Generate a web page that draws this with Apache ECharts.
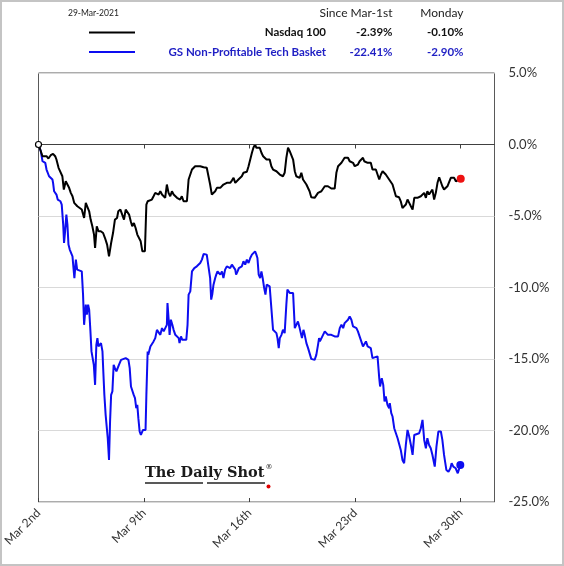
<!DOCTYPE html>
<html>
<head>
<meta charset="utf-8">
<script src="https://cdn.jsdelivr.net/npm/echarts@6.0.0/dist/echarts.min.js"></script>
<style>
html,body{margin:0;padding:0;background:#fff;}
#chart{width:564px;height:566px;}
</style>
</head>
<body>
<div id="chart"></div>
<script>
// ---- data ----
const reportDate = '29-Mar-2021';
const columnHeaders = ['Since Mar-1st', 'Monday'];
const seriesNames = ['Nasdaq 100', 'GS Non-Profitable Tech Basket'];
const sinceMar1 = ['-2.39%', '-22.41%'];
const mondayChg = ['-0.10%', '-2.90%'];
const tickDays = [0, 5, 10, 15, 20];          // trading-day offsets
const tickLabels = ['Mar 2nd', 'Mar 9th', 'Mar 16th', 'Mar 23rd', 'Mar 30th'];
const yTicks = [5, 0, -5, -10, -15, -20, -25];

// [trading-day offset, % change since Mar-1st]
const nasdaq100 = [[0,0],[0.19,-0.82],[0.27,-0.93],[0.38,-0.82],[0.47,-0.98],[0.58,-0.75],[0.69,-0.65],[0.79,-0.82],[0.85,-1.05],[0.95,-1.63],[1.04,-1.75],[1.13,-2.22],[1.2,-3.15],[1.29,-2.57],[1.37,-2.8],[1.45,-3.03],[1.53,-3.38],[1.61,-3.62],[1.69,-4.08],[1.77,-3.97],[1.84,-4.32],[1.92,-4.44],[2.05,-4.55],[2.16,-5.14],[2.24,-4.08],[2.33,-4.08],[2.4,-4.67],[2.47,-5.25],[2.55,-5.72],[2.63,-6.3],[2.68,-7.24],[2.76,-5.72],[2.84,-6.07],[2.95,-6.07],[3.06,-6.19],[3.15,-6.54],[3.25,-7.0],[3.34,-7.82],[3.44,-6.89],[3.53,-6.19],[3.62,-5.25],[3.72,-5.14],[3.78,-4.67],[3.88,-4.55],[3.97,-4.55],[4.05,-5.25],[4.13,-4.55],[4.21,-4.55],[4.29,-4.9],[4.37,-5.37],[4.44,-5.72],[4.52,-5.49],[4.6,-5.84],[4.68,-6.3],[4.76,-6.19],[4.84,-6.77],[4.92,-7.47],[5.04,-7.47],
[5.11,-4.2],[5.17,-3.97],[5.26,-4.08],[5.37,-3.85],[5.45,-3.62],[5.53,-3.38],[5.61,-3.27],[5.69,-3.5],[5.77,-3.27],[5.85,-3.5],[5.93,-3.38],[6.0,-3.73],[6.08,-2.8],[6.16,-3.38],[6.24,-3.62],[6.32,-3.27],[6.4,-3.5],[6.48,-3.38],[6.56,-3.73],[6.64,-3.62],[6.71,-3.85],[6.79,-3.62],[6.87,-3.97],[7.03,-3.97],[7.11,-2.45],[7.19,-2.33],[7.27,-1.75],[7.35,-1.63],[7.42,-1.52],[7.5,-1.45],[7.66,-1.52],[7.82,-1.59],[7.97,-1.63],[8.05,-1.75],[8.13,-2.8],[8.21,-3.5],[8.29,-3.62],[8.37,-3.27],[8.45,-3.03],[8.53,-2.99],[8.61,-3.03],[8.69,-2.92],[8.76,-2.8],[8.84,-2.75],[8.92,-2.68],[9.0,-2.57],[9.08,-2.68],[9.16,-2.52],[9.24,-2.33],[9.32,-2.68],[9.4,-2.57],[9.47,-2.45],[9.55,-2.33],[9.63,-2.22],[9.71,-1.98],[9.79,-1.87],[9.87,-1.91],[9.95,-1.52],[10.03,-1.4],[10.11,-0.58],[10.18,-0.23],[10.26,0.0],
[10.32,-0.23],[10.4,-0.35],[10.48,-0.23],[10.56,-0.58],[10.64,-0.82],[10.72,-0.93],[10.8,-1.05],[10.87,-0.98],[10.95,-1.05],[11.03,-1.52],[11.11,-1.75],[11.19,-1.63],[11.27,-1.87],[11.35,-1.98],[11.43,-2.1],[11.51,-2.05],[11.58,-2.22],[11.66,-1.98],[11.74,-0.93],[11.82,-0.23],[11.9,-0.47],[11.98,-0.47],[12.06,-1.05],[12.14,-1.87],[12.21,-2.22],[12.29,-2.1],[12.37,-2.33],[12.45,-1.98],[12.53,-2.45],[12.61,-2.57],[12.69,-2.8],[12.77,-2.92],[12.84,-3.27],[12.92,-3.69],[13.08,-3.73],[13.16,-3.69],[13.24,-3.38],[13.32,-3.5],[13.4,-3.27],[13.48,-3.15],[13.56,-2.92],[13.63,-3.03],[13.71,-2.92],[13.79,-3.03],[13.87,-3.08],[13.95,-3.15],[14.03,-3.08],[14.11,-1.98],[14.19,-1.52],[14.27,-1.4],[14.35,-1.28],[14.43,-1.17],[14.5,-0.93],[14.58,-1.05],[14.66,-0.93],[14.74,-1.17],[14.82,-1.05],[14.9,-1.28],[14.98,-1.52],[15.06,-1.52],[15.13,-1.4],[15.21,-1.17],[15.29,-1.05],[15.37,-0.93],
[15.43,-1.17],[15.51,-1.12],[15.59,-1.28],[15.66,-1.17],[15.74,-1.28],[15.82,-1.75],[15.9,-1.87],[15.98,-1.75],[16.06,-2.1],[16.14,-2.45],[16.22,-2.1],[16.3,-1.87],[16.38,-1.75],[16.45,-2.1],[16.53,-2.22],[16.61,-2.45],[16.69,-2.57],[16.77,-2.8],[16.85,-2.92],[16.93,-3.62],[17.01,-3.62],[17.08,-3.69],[17.16,-3.97],[17.24,-4.44],[17.32,-4.55],[17.4,-4.2],[17.48,-3.85],[17.56,-4.08],[17.64,-4.32],[17.72,-4.55],[17.8,-3.73],[17.87,-3.85],[17.95,-3.73],[18.03,-3.73],[18.11,-3.62],[18.19,-3.62],[18.27,-3.38],[18.35,-3.73],[18.42,-3.27],[18.5,-3.5],[18.58,-3.38],[18.66,-3.15],[18.74,-3.85],[18.82,-3.38],[18.9,-2.68],[18.98,-2.29],[19.06,-2.33],[19.13,-2.92],[19.21,-3.15],[19.29,-3.03],[19.37,-2.92],[19.45,-2.8],[19.53,-2.33],[19.61,-2.45],[19.69,-2.33],[19.77,-2.57],[19.84,-2.68],[19.92,-2.45],[20.0,-2.39]];

const gsTech = [[0,0],[0.11,-0.47],[0.19,-1.17],[0.27,-1.05],[0.32,-1.28],[0.38,-1.75],[0.43,-1.87],[0.5,-2.22],[0.58,-2.33],[0.66,-2.45],[0.69,-2.68],[0.74,-3.27],[0.79,-3.15],[0.85,-3.5],[0.91,-3.85],[0.98,-3.97],[1.04,-3.97],[1.1,-4.2],[1.17,-5.6],[1.21,-6.89],[1.26,-6.07],[1.32,-4.9],[1.37,-5.6],[1.42,-7.0],[1.48,-7.35],[1.54,-7.35],[1.61,-7.82],[1.65,-8.52],[1.7,-9.34],[1.77,-8.05],[1.83,-8.75],[1.89,-8.87],[2.05,-8.87],[2.11,-10.5],[2.16,-12.61],[2.21,-12.61],[2.24,-11.2],[2.29,-11.9],[2.35,-11.2],[2.4,-11.55],[2.46,-13.07],[2.51,-14.47],[2.55,-14.59],[2.62,-15.41],[2.68,-16.81],[2.74,-14.01],[2.79,-13.54],[2.84,-14.12],[2.9,-14.01],[2.96,-13.89],[3.03,-14.47],[3.07,-15.87],[3.12,-17.51],[3.18,-18.91],[3.23,-18.79],[3.28,-20.54],[3.34,-22.06],[3.39,-19.37],[3.44,-17.51],[3.5,-17.27],[3.56,-15.41],[3.62,-15.64],[3.69,-15.87],[3.75,-15.64],[3.81,-15.41],[3.91,-15.06],[4.0,-14.94],[4.13,-14.94],[4.26,-15.06],[4.32,-15.64],[4.38,-16.92],[4.44,-17.04],[4.51,-17.51],[4.57,-17.74],[4.63,-18.44],[4.68,-18.21],[4.73,-19.14],[4.79,-20.07],[4.85,-20.31],[4.95,-19.96],[5.07,-19.96],
[5.11,-17.51],[5.17,-14.47],[5.2,-14.71],[5.3,-14.12],[5.37,-14.01],[5.45,-13.77],[5.53,-13.54],[5.61,-12.96],[5.69,-13.07],[5.77,-13.31],[5.85,-12.84],[5.93,-13.07],[6.0,-13.07],[6.08,-12.61],[6.11,-11.09],[6.16,-12.14],[6.21,-13.31],[6.27,-12.25],[6.34,-12.61],[6.4,-12.96],[6.48,-13.31],[6.56,-13.19],[6.64,-13.54],[6.68,-13.89],[6.75,-13.42],[6.81,-13.66],[6.87,-13.66],[7.0,-13.66],[7.06,-12.61],[7.11,-10.5],[7.19,-10.27],[7.27,-8.87],[7.31,-8.75],[7.38,-8.64],[7.44,-8.64],[7.5,-8.52],[7.58,-8.4],[7.66,-8.29],[7.74,-8.05],[7.82,-7.66],[7.9,-7.7],[7.97,-7.7],[8.05,-7.7],[8.13,-9.34],[8.18,-10.85],[8.23,-10.5],[8.29,-9.8],[8.37,-9.34],[8.42,-9.1],[8.48,-8.87],[8.54,-8.99],[8.61,-9.1],[8.69,-8.87],[8.76,-9.34],[8.84,-8.75],[8.92,-8.52],[9.0,-8.4],[9.08,-8.64],[9.16,-8.4],[9.24,-8.4],[9.32,-8.75],[9.36,-9.1],[9.43,-8.87],[9.49,-8.64],[9.55,-8.75],[9.63,-8.52],[9.71,-8.17],[9.79,-8.4],[9.87,-8.05],[9.95,-8.29],[10.03,-7.94],[10.11,-7.7],[10.18,-7.59],[10.26,-7.47],
[10.32,-7.7],[10.37,-7.94],[10.43,-9.1],[10.5,-9.34],[10.56,-8.87],[10.62,-9.34],[10.69,-10.04],[10.75,-10.5],[10.81,-9.8],[10.87,-9.8],[10.95,-9.92],[11.03,-9.8],[11.11,-12.96],[11.19,-12.84],[11.27,-13.19],[11.32,-13.54],[11.38,-14.24],[11.43,-13.54],[11.51,-13.31],[11.58,-12.96],[11.66,-13.19],[11.74,-11.2],[11.79,-10.15],[11.85,-10.27],[11.91,-10.39],[12.06,-10.39],[12.14,-12.84],[12.21,-12.72],[12.29,-12.37],[12.37,-12.84],[12.42,-12.72],[12.48,-13.54],[12.55,-12.96],[12.61,-13.31],[12.69,-13.89],[12.77,-14.24],[12.84,-14.59],[12.92,-14.99],[13.08,-15.06],[13.16,-14.71],[13.24,-14.01],[13.29,-13.54],[13.33,-13.77],[13.4,-13.66],[13.48,-13.31],[13.56,-13.07],[13.63,-13.07],[13.71,-13.31],[13.79,-13.19],[13.87,-13.31],[13.95,-13.19],[14.03,-13.42],[14.11,-13.31],[14.19,-13.42],[14.27,-12.84],[14.35,-12.61],[14.43,-12.84],[14.5,-12.49],[14.58,-12.61],[14.66,-12.25],[14.74,-12.02],[14.82,-12.25],[14.9,-12.72],[14.98,-12.84],[15.06,-12.84],[15.13,-13.07],[15.21,-13.42],[15.29,-13.54],[15.37,-14.12],
[15.43,-14.24],[15.51,-13.77],[15.59,-14.12],[15.66,-14.01],[15.74,-14.24],[15.82,-14.94],[15.9,-14.82],[16.06,-14.82],[16.14,-16.34],[16.18,-16.92],[16.26,-16.34],[16.33,-16.81],[16.39,-17.97],[16.45,-17.62],[16.53,-18.21],[16.61,-18.44],[16.64,-18.09],[16.71,-18.79],[16.77,-19.02],[16.85,-19.84],[16.93,-19.96],[17.01,-20.54],[17.08,-20.54],[17.16,-21.36],[17.24,-22.06],[17.32,-22.29],[17.4,-21.01],[17.48,-19.96],[17.56,-20.42],[17.64,-21.01],[17.72,-21.71],[17.8,-20.31],[17.87,-20.19],[18.03,-20.19],[18.11,-19.84],[18.19,-19.26],[18.27,-20.66],[18.35,-21.24],[18.42,-20.54],[18.5,-21.01],[18.58,-21.24],[18.66,-21.71],[18.77,-22.53],[18.85,-21.13],[18.94,-20.07],[19.06,-20.07],[19.13,-20.66],[19.21,-21.71],[19.32,-22.76],[19.42,-22.88],[19.51,-22.64],[19.57,-22.29],[19.65,-22.53],[19.76,-22.64],[19.86,-22.99],[19.98,-22.41]];

// ---- styling ----
const FONT = 'Lato, "Open Sans", sans-serif';
const BLACK = '#000000';
const BLUE = '#0d0df0';
const BLUE_TEXT = '#1f1fc4';

const chart = echarts.init(document.getElementById('chart'), null, {renderer: 'canvas'});

const colR1 = 392.5, colR2 = 463.5, nameR = 326;
const rowY = [32.5, 52];
const headerGraphics = [
  {type:'text', x:68, y:13.5, style:{text:reportDate, font:'8.5px ' + FONT, fill:'#222', textAlign:'left', textVerticalAlign:'middle'}},
  {type:'text', x:colR1, y:13.5, style:{text:columnHeaders[0], font:'12px ' + FONT, fill:'#222', textAlign:'right', textVerticalAlign:'middle'}},
  {type:'text', x:colR2, y:13.5, style:{text:columnHeaders[1], font:'12px ' + FONT, fill:'#222', textAlign:'right', textVerticalAlign:'middle'}}
];
const rowColors = [BLACK, BLUE];
const rowText = ['#111', BLUE_TEXT];
seriesNames.forEach((n, i) => {
  headerGraphics.push(
    {type:'line', shape:{x1:89, y1:rowY[i], x2:135, y2:rowY[i]}, style:{stroke:rowColors[i], lineWidth:2}},
    {type:'text', x:nameR, y:rowY[i], style:{text:n, font:'bold 11.5px ' + FONT, fill:rowText[i], textAlign:'right', textVerticalAlign:'middle'}},
    {type:'text', x:colR1, y:rowY[i], style:{text:sinceMar1[i], font:'bold 11.5px ' + FONT, fill:rowText[i], textAlign:'right', textVerticalAlign:'middle'}},
    {type:'text', x:colR2, y:rowY[i], style:{text:mondayChg[i], font:'bold 11.5px ' + FONT, fill:rowText[i], textAlign:'right', textVerticalAlign:'middle'}}
  );
});

const watermark = [
  {type:'text', x:145, y:473, style:{text:'The Daily Shot', font:'bold 14.5px "DejaVu Serif", "Liberation Serif", serif', fill:'#1a1a1a', textAlign:'left', textVerticalAlign:'middle'}},
  {type:'text', x:265.5, y:467, style:{text:'®', font:'7px "DejaVu Serif", serif', fill:'#1a1a1a', textAlign:'left', textVerticalAlign:'middle'}},
  {type:'line', shape:{x1:145, y1:483, x2:203, y2:483}, style:{stroke:'#222', lineWidth:1.3}},
  {type:'line', shape:{x1:207, y1:483, x2:265, y2:483}, style:{stroke:'#222', lineWidth:1.3}},
  {type:'circle', shape:{cx:268.5, cy:486.5, r:2}, style:{fill:'#e00000'}}
];

const frame = [{type:'rect', shape:{x:1, y:1, width:562, height:564}, style:{fill:null, stroke:'#c4c4c4', lineWidth:2}, z:100}];

const xMin = 0, xMax = 21.6;

const option = {
  animation: false,
  backgroundColor: '#ffffff',
  grid: {left: 38.5, right: 69.5, top: 73, bottom: 64, show: true, borderColor: '#595959', borderWidth: 1, backgroundColor: 'transparent'},
  xAxis: [{
    type: 'value', min: xMin, max: xMax, interval: 5,
    axisLine: {show: true, lineStyle: {color: '#404040', width: 1}},
    axisTick: {show: true, length: 4, customValues: tickDays, lineStyle: {color: '#404040'}},
    splitLine: {show: false},
    axisLabel: {
      customValues: tickDays, rotate: 45, margin: 9, fontSize: 12, fontFamily: FONT, color: '#333',
      formatter: v => (Math.abs(v % 5) < 1e-6 ? tickLabels[Math.round(v / 5)] : '')
    }
  }, {
    type: 'value', min: xMin, max: xMax, interval: 5, position: 'bottom',
    axisLine: {show: false},
    axisTick: {show: true, inside: true, length: 4, customValues: tickDays, lineStyle: {color: '#404040'}},
    axisLabel: {show: false}, splitLine: {show: false}
  }],
  yAxis: {
    type: 'value', position: 'right', min: -25, max: 5, interval: 5,
    axisLine: {show: false}, axisTick: {show: false},
    splitLine: {show: true, lineStyle: {color: '#d9d9d9', width: 1}},
    axisLabel: {margin: 14, fontSize: 13, fontFamily: FONT, color: '#333', align: 'left',
      formatter: v => v.toFixed(1) + '%'}
  },
  series: [{
    name: seriesNames[1], type: 'line', data: gsTech, showSymbol: false, z: 3,
    lineStyle: {color: BLUE, width: 2}, itemStyle: {color: BLUE},
    markPoint: {silent: true, symbol: 'circle', symbolSize: 8, label: {show: false},
      itemStyle: {color: BLUE}, data: [{coord: gsTech[gsTech.length - 1]}]}
  }, {
    name: seriesNames[0], type: 'line', data: nasdaq100, showSymbol: false, z: 4,
    lineStyle: {color: BLACK, width: 2}, itemStyle: {color: BLACK},
    markLine: {silent: true, symbol: 'none', label: {show: false},
      lineStyle: {color: '#404040', width: 1, type: 'solid'}, data: [{yAxis: 0}]},
    markPoint: {silent: true, symbol: 'circle', label: {show: false},
      data: [
        {coord: nasdaq100[nasdaq100.length - 1], symbolSize: 8, itemStyle: {color: '#ee1111'}},
        {coord: nasdaq100[0], symbolSize: 6, itemStyle: {color: '#ffffff', borderColor: '#000', borderWidth: 1.2}}
      ]}
  }],
  graphic: headerGraphics.concat(watermark, frame)
};
chart.setOption(option);
</script>
</body>
</html>
